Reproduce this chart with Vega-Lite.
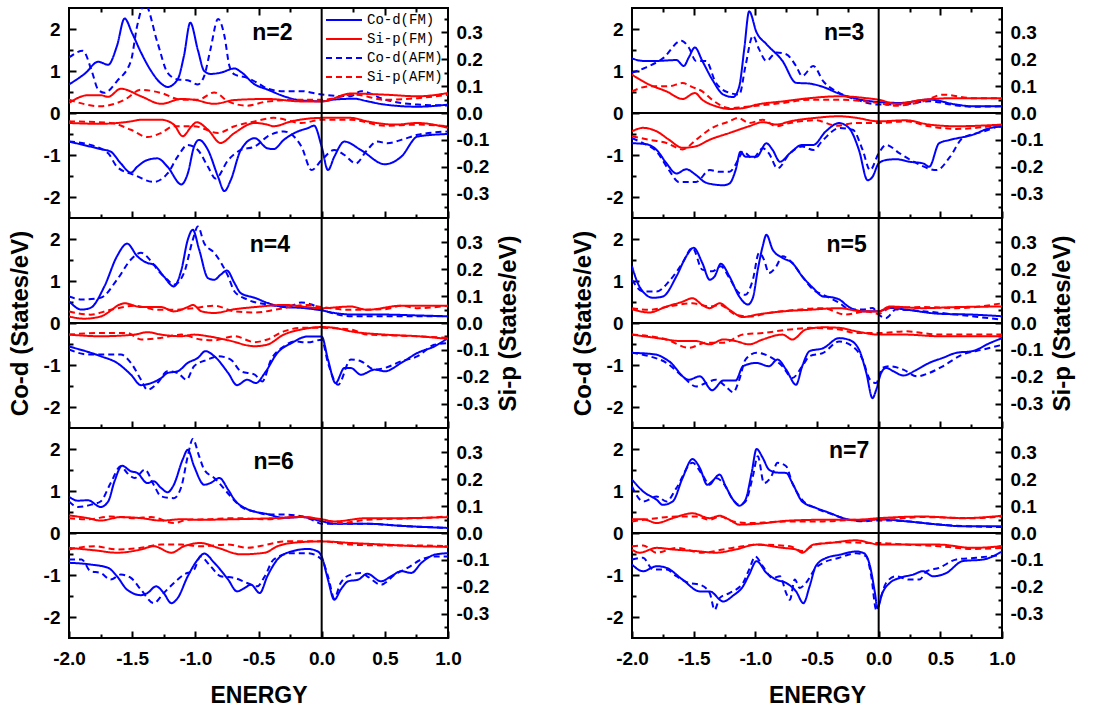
{
"$schema": "https://vega.github.io/schema/vega-lite/v6.json",
"background": "white",
"padding": {"left": 7, "top": 6, "right": 5, "bottom": 5},
"config": {
 "font": "Liberation Sans",
 "view": {"stroke": "black", "strokeWidth": 2},
 "locale": {"number": {"decimal": ".", "thousands": ",", "grouping": [3], "currency": ["$", ""], "minus": "-"}},
 "axis": {"domain": false, "grid": false, "tickColor": "black", "tickWidth": 2, "labelFont": "Liberation Sans", "labelFontWeight": "bold", "labelFontSize": 19, "labelColor": "black", "titleFont": "Liberation Sans", "titleFontWeight": "bold", "titleFontSize": 24, "titleColor": "black", "labelFlush": false, "labelOverlap": false},
 "line": {"strokeWidth": 2, "interpolate": "monotone"},
 "rule": {"color": "black", "strokeWidth": 2},
 "text": {"font": "Liberation Sans", "fontSize": 23, "fontWeight": "bold", "color": "black"}
},
"datasets": {
"n2": [
{"k":"CF+","x":-2,"y":0.68},{"k":"CF+","x":-1.87,"y":0.95},{"k":"CF+","x":-1.77,"y":1.22},{"k":"CF+","x":-1.69,"y":1.15},{"k":"CF+","x":-1.62,"y":1.6},{"k":"CF+","x":-1.56,"y":2.25},{"k":"CF+","x":-1.5,"y":1.9},{"k":"CF+","x":-1.43,"y":1.44},{"k":"CF+","x":-1.35,"y":1.0},{"k":"CF+","x":-1.27,"y":0.7},{"k":"CF+","x":-1.22,"y":0.62},{"k":"CF+","x":-1.14,"y":0.8},{"k":"CF+","x":-1.09,"y":1.36},{"k":"CF+","x":-1.04,"y":2.15},{"k":"CF+","x":-0.98,"y":1.5},{"k":"CF+","x":-0.93,"y":1.0},{"k":"CF+","x":-0.88,"y":0.93},{"k":"CF+","x":-0.8,"y":0.96},{"k":"CF+","x":-0.69,"y":1.06},{"k":"CF+","x":-0.64,"y":0.98},{"k":"CF+","x":-0.53,"y":0.68},{"k":"CF+","x":-0.43,"y":0.56},{"k":"CF+","x":-0.3,"y":0.4},{"k":"CF+","x":-0.16,"y":0.3},{"k":"CF+","x":0,"y":0.28},{"k":"CF+","x":0.1,"y":0.32},{"k":"CF+","x":0.26,"y":0.34},{"k":"CF+","x":0.36,"y":0.28},{"k":"CF+","x":0.5,"y":0.2},{"k":"CF+","x":0.76,"y":0.15},{"k":"CF+","x":1,"y":0.2},
{"k":"CF-","x":-2,"y":-0.68},{"k":"CF-","x":-1.75,"y":-0.86},{"k":"CF-","x":-1.67,"y":-0.92},{"k":"CF-","x":-1.59,"y":-1.2},{"k":"CF-","x":-1.51,"y":-1.42},{"k":"CF-","x":-1.46,"y":-1.28},{"k":"CF-","x":-1.38,"y":-1.12},{"k":"CF-","x":-1.3,"y":-1.08},{"k":"CF-","x":-1.22,"y":-1.28},{"k":"CF-","x":-1.11,"y":-1.7},{"k":"CF-","x":-1.06,"y":-1.44},{"k":"CF-","x":-1.01,"y":-0.8},{"k":"CF-","x":-0.97,"y":-0.64},{"k":"CF-","x":-0.9,"y":-0.88},{"k":"CF-","x":-0.82,"y":-1.52},{"k":"CF-","x":-0.77,"y":-1.86},{"k":"CF-","x":-0.72,"y":-1.6},{"k":"CF-","x":-0.64,"y":-0.88},{"k":"CF-","x":-0.53,"y":-0.6},{"k":"CF-","x":-0.43,"y":-0.84},{"k":"CF-","x":-0.38,"y":-0.86},{"k":"CF-","x":-0.3,"y":-0.64},{"k":"CF-","x":-0.19,"y":-0.44},{"k":"CF-","x":-0.11,"y":-0.36},{"k":"CF-","x":-0.06,"y":-0.3},{"k":"CF-","x":0,"y":-0.8},{"k":"CF-","x":0.05,"y":-1.36},{"k":"CF-","x":0.1,"y":-1.04},{"k":"CF-","x":0.18,"y":-0.68},{"k":"CF-","x":0.31,"y":-0.88},{"k":"CF-","x":0.5,"y":-1.22},{"k":"CF-","x":0.63,"y":-1.04},{"k":"CF-","x":0.76,"y":-0.56},{"k":"CF-","x":1,"y":-0.5},
{"k":"CA+","x":-2,"y":1.32},{"k":"CA+","x":-1.89,"y":1.48},{"k":"CA+","x":-1.82,"y":1.0},{"k":"CA+","x":-1.77,"y":0.56},{"k":"CA+","x":-1.72,"y":0.48},{"k":"CA+","x":-1.62,"y":0.76},{"k":"CA+","x":-1.51,"y":1.24},{"k":"CA+","x":-1.46,"y":2.08},{"k":"CA+","x":-1.4,"y":2.6},{"k":"CA+","x":-1.3,"y":1.68},{"k":"CA+","x":-1.22,"y":0.96},{"k":"CA+","x":-1.14,"y":0.8},{"k":"CA+","x":-1.06,"y":0.78},{"k":"CA+","x":-0.98,"y":0.68},{"k":"CA+","x":-0.93,"y":0.88},{"k":"CA+","x":-0.88,"y":1.52},{"k":"CA+","x":-0.82,"y":2.24},{"k":"CA+","x":-0.77,"y":1.84},{"k":"CA+","x":-0.73,"y":1.12},{"k":"CA+","x":-0.69,"y":0.92},{"k":"CA+","x":-0.59,"y":0.84},{"k":"CA+","x":-0.51,"y":0.72},{"k":"CA+","x":-0.43,"y":0.58},{"k":"CA+","x":-0.3,"y":0.52},{"k":"CA+","x":-0.16,"y":0.52},{"k":"CA+","x":0,"y":0.44},{"k":"CA+","x":0.23,"y":0.4},{"k":"CA+","x":0.31,"y":0.52},{"k":"CA+","x":0.5,"y":0.32},{"k":"CA+","x":0.76,"y":0.2},{"k":"CA+","x":1,"y":0.18},
{"k":"CA-","x":-2,"y":-0.68},{"k":"CA-","x":-1.83,"y":-0.76},{"k":"CA-","x":-1.69,"y":-0.96},{"k":"CA-","x":-1.62,"y":-1.28},{"k":"CA-","x":-1.48,"y":-1.48},{"k":"CA-","x":-1.33,"y":-1.64},{"k":"CA-","x":-1.22,"y":-1.44},{"k":"CA-","x":-1.14,"y":-1.04},{"k":"CA-","x":-1.06,"y":-0.76},{"k":"CA-","x":-0.98,"y":-0.88},{"k":"CA-","x":-0.9,"y":-1.28},{"k":"CA-","x":-0.84,"y":-1.56},{"k":"CA-","x":-0.74,"y":-1.12},{"k":"CA-","x":-0.64,"y":-0.88},{"k":"CA-","x":-0.53,"y":-0.8},{"k":"CA-","x":-0.43,"y":-0.56},{"k":"CA-","x":-0.3,"y":-0.44},{"k":"CA-","x":-0.16,"y":-0.8},{"k":"CA-","x":-0.08,"y":-1.36},{"k":"CA-","x":0,"y":-1.12},{"k":"CA-","x":0.1,"y":-0.88},{"k":"CA-","x":0.18,"y":-1.0},{"k":"CA-","x":0.27,"y":-1.2},{"k":"CA-","x":0.36,"y":-0.88},{"k":"CA-","x":0.44,"y":-0.68},{"k":"CA-","x":0.52,"y":-0.72},{"k":"CA-","x":0.63,"y":-0.64},{"k":"CA-","x":0.76,"y":-0.52},{"k":"CA-","x":1,"y":-0.44},
{"k":"SF+","x":-2,"y":0.037},{"k":"SF+","x":-1.85,"y":0.066},{"k":"SF+","x":-1.75,"y":0.066},{"k":"SF+","x":-1.69,"y":0.06},{"k":"SF+","x":-1.59,"y":0.09},{"k":"SF+","x":-1.43,"y":0.062},{"k":"SF+","x":-1.27,"y":0.034},{"k":"SF+","x":-1.11,"y":0.052},{"k":"SF+","x":-1.01,"y":0.049},{"k":"SF+","x":-0.85,"y":0.034},{"k":"SF+","x":-0.69,"y":0.048},{"k":"SF+","x":-0.43,"y":0.052},{"k":"SF+","x":-0.16,"y":0.043},{"k":"SF+","x":0,"y":0.043},{"k":"SF+","x":0.23,"y":0.072},{"k":"SF+","x":0.5,"y":0.068},{"k":"SF+","x":0.76,"y":0.062},{"k":"SF+","x":1,"y":0.074},
{"k":"SA+","x":-2,"y":0.049},{"k":"SA+","x":-1.75,"y":0.025},{"k":"SA+","x":-1.56,"y":0.049},{"k":"SA+","x":-1.43,"y":0.086},{"k":"SA+","x":-1.27,"y":0.074},{"k":"SA+","x":-1.11,"y":0.049},{"k":"SA+","x":-0.98,"y":0.049},{"k":"SA+","x":-0.85,"y":0.076},{"k":"SA+","x":-0.74,"y":0.043},{"k":"SA+","x":-0.59,"y":0.027},{"k":"SA+","x":-0.43,"y":0.043},{"k":"SA+","x":-0.16,"y":0.049},{"k":"SA+","x":0,"y":0.049},{"k":"SA+","x":0.26,"y":0.068},{"k":"SA+","x":0.5,"y":0.049},{"k":"SA+","x":0.76,"y":0.055},{"k":"SA+","x":1,"y":0.068},
{"k":"SF-","x":-2,"y":-0.037},{"k":"SF-","x":-1.75,"y":-0.04},{"k":"SF-","x":-1.51,"y":-0.031},{"k":"SF-","x":-1.43,"y":-0.025},{"k":"SF-","x":-1.27,"y":-0.025},{"k":"SF-","x":-1.17,"y":-0.043},{"k":"SF-","x":-1.1,"y":-0.086},{"k":"SF-","x":-1.03,"y":-0.049},{"k":"SF-","x":-0.99,"y":-0.034},{"k":"SF-","x":-0.9,"y":-0.062},{"k":"SF-","x":-0.8,"y":-0.111},{"k":"SF-","x":-0.69,"y":-0.074},{"k":"SF-","x":-0.53,"y":-0.037},{"k":"SF-","x":-0.43,"y":-0.043},{"k":"SF-","x":-0.38,"y":-0.049},{"k":"SF-","x":-0.24,"y":-0.031},{"k":"SF-","x":0,"y":-0.018},{"k":"SF-","x":0.23,"y":-0.018},{"k":"SF-","x":0.36,"y":-0.031},{"k":"SF-","x":0.58,"y":-0.043},{"k":"SF-","x":0.76,"y":-0.037},{"k":"SF-","x":1,"y":-0.055},
{"k":"SA-","x":-2,"y":-0.031},{"k":"SA-","x":-1.67,"y":-0.037},{"k":"SA-","x":-1.51,"y":-0.062},{"k":"SA-","x":-1.38,"y":-0.089},{"k":"SA-","x":-1.27,"y":-0.074},{"k":"SA-","x":-1.17,"y":-0.049},{"k":"SA-","x":-1.01,"y":-0.049},{"k":"SA-","x":-0.82,"y":-0.074},{"k":"SA-","x":-0.69,"y":-0.049},{"k":"SA-","x":-0.53,"y":-0.031},{"k":"SA-","x":-0.38,"y":-0.018},{"k":"SA-","x":-0.16,"y":-0.037},{"k":"SA-","x":0,"y":-0.025},{"k":"SA-","x":0.23,"y":-0.025},{"k":"SA-","x":0.5,"y":-0.047},{"k":"SA-","x":0.76,"y":-0.043},{"k":"SA-","x":1,"y":-0.049}
],
"n3": [
{"k":"CF+","x":-2,"y":1.3},{"k":"CF+","x":-1.91,"y":1.24},{"k":"CF+","x":-1.8,"y":1.24},{"k":"CF+","x":-1.64,"y":1.26},{"k":"CF+","x":-1.58,"y":1.12},{"k":"CF+","x":-1.54,"y":1.32},{"k":"CF+","x":-1.49,"y":1.56},{"k":"CF+","x":-1.43,"y":1.24},{"k":"CF+","x":-1.35,"y":0.8},{"k":"CF+","x":-1.26,"y":0.44},{"k":"CF+","x":-1.18,"y":0.38},{"k":"CF+","x":-1.13,"y":0.64},{"k":"CF+","x":-1.09,"y":1.52},{"k":"CF+","x":-1.05,"y":2.42},{"k":"CF+","x":-0.99,"y":1.92},{"k":"CF+","x":-0.91,"y":1.64},{"k":"CF+","x":-0.78,"y":1.24},{"k":"CF+","x":-0.67,"y":0.72},{"k":"CF+","x":-0.56,"y":0.7},{"k":"CF+","x":-0.45,"y":0.62},{"k":"CF+","x":-0.32,"y":0.46},{"k":"CF+","x":-0.18,"y":0.34},{"k":"CF+","x":0,"y":0.26},{"k":"CF+","x":0.17,"y":0.24},{"k":"CF+","x":0.41,"y":0.32},{"k":"CF+","x":0.63,"y":0.2},{"k":"CF+","x":0.76,"y":0.16},{"k":"CF+","x":1,"y":0.16},
{"k":"CA+","x":-2,"y":0.96},{"k":"CA+","x":-1.89,"y":1.08},{"k":"CA+","x":-1.75,"y":1.3},{"k":"CA+","x":-1.6,"y":1.72},{"k":"CA+","x":-1.54,"y":1.56},{"k":"CA+","x":-1.48,"y":1.24},{"k":"CA+","x":-1.4,"y":1.24},{"k":"CA+","x":-1.32,"y":0.72},{"k":"CA+","x":-1.21,"y":0.48},{"k":"CA+","x":-1.13,"y":0.44},{"k":"CA+","x":-1.08,"y":1.12},{"k":"CA+","x":-1.02,"y":1.84},{"k":"CA+","x":-0.97,"y":1.52},{"k":"CA+","x":-0.91,"y":1.24},{"k":"CA+","x":-0.83,"y":1.44},{"k":"CA+","x":-0.75,"y":1.4},{"k":"CA+","x":-0.67,"y":1.12},{"k":"CA+","x":-0.62,"y":0.88},{"k":"CA+","x":-0.53,"y":1.12},{"k":"CA+","x":-0.45,"y":0.76},{"k":"CA+","x":-0.32,"y":0.48},{"k":"CA+","x":-0.18,"y":0.32},{"k":"CA+","x":0,"y":0.2},{"k":"CA+","x":0.17,"y":0.2},{"k":"CA+","x":0.41,"y":0.28},{"k":"CA+","x":0.63,"y":0.18},{"k":"CA+","x":0.76,"y":0.15},{"k":"CA+","x":1,"y":0.16},
{"k":"CF-","x":-2,"y":-0.72},{"k":"CF-","x":-1.89,"y":-0.74},{"k":"CF-","x":-1.8,"y":-0.88},{"k":"CF-","x":-1.72,"y":-1.2},{"k":"CF-","x":-1.64,"y":-1.44},{"k":"CF-","x":-1.56,"y":-1.34},{"k":"CF-","x":-1.48,"y":-1.48},{"k":"CF-","x":-1.4,"y":-1.66},{"k":"CF-","x":-1.26,"y":-1.72},{"k":"CF-","x":-1.21,"y":-1.68},{"k":"CF-","x":-1.16,"y":-1.36},{"k":"CF-","x":-1.12,"y":-0.92},{"k":"CF-","x":-1.08,"y":-1.04},{"k":"CF-","x":-0.99,"y":-1.04},{"k":"CF-","x":-0.91,"y":-0.72},{"k":"CF-","x":-0.86,"y":-0.88},{"k":"CF-","x":-0.8,"y":-1.16},{"k":"CF-","x":-0.72,"y":-0.96},{"k":"CF-","x":-0.62,"y":-0.76},{"k":"CF-","x":-0.53,"y":-0.76},{"k":"CF-","x":-0.43,"y":-0.44},{"k":"CF-","x":-0.32,"y":-0.24},{"k":"CF-","x":-0.24,"y":-0.36},{"k":"CF-","x":-0.16,"y":-0.88},{"k":"CF-","x":-0.09,"y":-1.6},{"k":"CF-","x":-0.05,"y":-1.52},{"k":"CF-","x":0,"y":-1.2},{"k":"CF-","x":0.06,"y":-1.12},{"k":"CF-","x":0.14,"y":-1.1},{"k":"CF-","x":0.25,"y":-1.16},{"k":"CF-","x":0.36,"y":-1.2},{"k":"CF-","x":0.41,"y":-1.28},{"k":"CF-","x":0.49,"y":-0.72},{"k":"CF-","x":0.58,"y":-0.64},{"k":"CF-","x":0.76,"y":-0.52},{"k":"CF-","x":0.9,"y":-0.36},{"k":"CF-","x":1,"y":-0.32},
{"k":"CA-","x":-2,"y":-0.6},{"k":"CA-","x":-1.91,"y":-0.72},{"k":"CA-","x":-1.8,"y":-0.92},{"k":"CA-","x":-1.7,"y":-1.36},{"k":"CA-","x":-1.62,"y":-1.64},{"k":"CA-","x":-1.48,"y":-1.64},{"k":"CA-","x":-1.37,"y":-1.36},{"k":"CA-","x":-1.29,"y":-1.4},{"k":"CA-","x":-1.21,"y":-1.4},{"k":"CA-","x":-1.14,"y":-1.12},{"k":"CA-","x":-1.1,"y":-0.92},{"k":"CA-","x":-1.02,"y":-1.08},{"k":"CA-","x":-0.94,"y":-0.84},{"k":"CA-","x":-0.89,"y":-0.96},{"k":"CA-","x":-0.82,"y":-1.32},{"k":"CA-","x":-0.72,"y":-0.96},{"k":"CA-","x":-0.62,"y":-0.8},{"k":"CA-","x":-0.53,"y":-0.88},{"k":"CA-","x":-0.45,"y":-0.64},{"k":"CA-","x":-0.32,"y":-0.36},{"k":"CA-","x":-0.21,"y":-0.4},{"k":"CA-","x":-0.13,"y":-0.88},{"k":"CA-","x":-0.07,"y":-1.36},{"k":"CA-","x":0,"y":-0.96},{"k":"CA-","x":0.06,"y":-0.76},{"k":"CA-","x":0.17,"y":-0.96},{"k":"CA-","x":0.31,"y":-1.2},{"k":"CA-","x":0.47,"y":-1.36},{"k":"CA-","x":0.58,"y":-1.04},{"k":"CA-","x":0.68,"y":-0.6},{"k":"CA-","x":0.85,"y":-0.44},{"k":"CA-","x":1,"y":-0.28},
{"k":"SF+","x":-2,"y":0.142},{"k":"SF+","x":-1.86,"y":0.105},{"k":"SF+","x":-1.72,"y":0.08},{"k":"SF+","x":-1.59,"y":0.052},{"k":"SF+","x":-1.49,"y":0.074},{"k":"SF+","x":-1.43,"y":0.049},{"k":"SF+","x":-1.32,"y":0.025},{"k":"SF+","x":-1.21,"y":0.015},{"k":"SF+","x":-1.1,"y":0.018},{"k":"SF+","x":-0.99,"y":0.031},{"k":"SF+","x":-0.78,"y":0.043},{"k":"SF+","x":-0.56,"y":0.055},{"k":"SF+","x":-0.32,"y":0.062},{"k":"SF+","x":-0.1,"y":0.055},{"k":"SF+","x":0,"y":0.049},{"k":"SF+","x":0.14,"y":0.034},{"k":"SF+","x":0.36,"y":0.049},{"k":"SF+","x":0.63,"y":0.055},{"k":"SF+","x":1,"y":0.055},
{"k":"SA+","x":-2,"y":0.08},{"k":"SA+","x":-1.86,"y":0.099},{"k":"SA+","x":-1.7,"y":0.099},{"k":"SA+","x":-1.59,"y":0.111},{"k":"SA+","x":-1.51,"y":0.096},{"k":"SA+","x":-1.43,"y":0.08},{"k":"SA+","x":-1.35,"y":0.049},{"k":"SA+","x":-1.21,"y":0.018},{"k":"SA+","x":-1.1,"y":0.022},{"k":"SA+","x":-0.99,"y":0.027},{"k":"SA+","x":-0.78,"y":0.037},{"k":"SA+","x":-0.56,"y":0.049},{"k":"SA+","x":-0.32,"y":0.049},{"k":"SA+","x":-0.1,"y":0.043},{"k":"SA+","x":0,"y":0.037},{"k":"SA+","x":0.14,"y":0.027},{"k":"SA+","x":0.36,"y":0.043},{"k":"SA+","x":0.52,"y":0.068},{"k":"SA+","x":0.76,"y":0.055},{"k":"SA+","x":1,"y":0.055},
{"k":"SF-","x":-2,"y":-0.068},{"k":"SF-","x":-1.91,"y":-0.055},{"k":"SF-","x":-1.8,"y":-0.068},{"k":"SF-","x":-1.7,"y":-0.099},{"k":"SF-","x":-1.59,"y":-0.129},{"k":"SF-","x":-1.48,"y":-0.123},{"k":"SF-","x":-1.37,"y":-0.099},{"k":"SF-","x":-1.21,"y":-0.074},{"k":"SF-","x":-1.05,"y":-0.049},{"k":"SF-","x":-0.94,"y":-0.034},{"k":"SF-","x":-0.83,"y":-0.043},{"k":"SF-","x":-0.72,"y":-0.031},{"k":"SF-","x":-0.51,"y":-0.018},{"k":"SF-","x":-0.32,"y":-0.012},{"k":"SF-","x":-0.18,"y":-0.018},{"k":"SF-","x":0,"y":-0.031},{"k":"SF-","x":0.22,"y":-0.027},{"k":"SF-","x":0.41,"y":-0.043},{"k":"SF-","x":0.63,"y":-0.049},{"k":"SF-","x":1,"y":-0.043},
{"k":"SA-","x":-2,"y":-0.086},{"k":"SA-","x":-1.86,"y":-0.099},{"k":"SA-","x":-1.72,"y":-0.111},{"k":"SA-","x":-1.59,"y":-0.135},{"k":"SA-","x":-1.48,"y":-0.099},{"k":"SA-","x":-1.35,"y":-0.055},{"k":"SA-","x":-1.21,"y":-0.031},{"k":"SA-","x":-1.14,"y":-0.018},{"k":"SA-","x":-1.05,"y":-0.037},{"k":"SA-","x":-0.94,"y":-0.025},{"k":"SA-","x":-0.83,"y":-0.049},{"k":"SA-","x":-0.72,"y":-0.037},{"k":"SA-","x":-0.51,"y":-0.027},{"k":"SA-","x":-0.34,"y":-0.047},{"k":"SA-","x":-0.18,"y":-0.037},{"k":"SA-","x":0,"y":-0.037},{"k":"SA-","x":0.22,"y":-0.031},{"k":"SA-","x":0.41,"y":-0.049},{"k":"SA-","x":0.63,"y":-0.059},{"k":"SA-","x":1,"y":-0.043}
],
"n4": [
{"k":"CF+","x":-2,"y":0.52},{"k":"CF+","x":-1.9,"y":0.32},{"k":"CF+","x":-1.83,"y":0.36},{"k":"CF+","x":-1.72,"y":0.87},{"k":"CF+","x":-1.62,"y":1.59},{"k":"CF+","x":-1.54,"y":1.89},{"k":"CF+","x":-1.46,"y":1.59},{"k":"CF+","x":-1.38,"y":1.43},{"k":"CF+","x":-1.33,"y":1.39},{"k":"CF+","x":-1.25,"y":1.11},{"k":"CF+","x":-1.17,"y":0.87},{"k":"CF+","x":-1.11,"y":1.27},{"k":"CF+","x":-1.06,"y":1.98},{"k":"CF+","x":-1.02,"y":2.22},{"k":"CF+","x":-0.97,"y":1.75},{"k":"CF+","x":-0.9,"y":1.07},{"k":"CF+","x":-0.85,"y":1.03},{"k":"CF+","x":-0.8,"y":1.15},{"k":"CF+","x":-0.75,"y":1.25},{"k":"CF+","x":-0.69,"y":0.95},{"k":"CF+","x":-0.64,"y":0.71},{"k":"CF+","x":-0.53,"y":0.6},{"k":"CF+","x":-0.43,"y":0.48},{"k":"CF+","x":-0.3,"y":0.38},{"k":"CF+","x":-0.16,"y":0.36},{"k":"CF+","x":0,"y":0.3},{"k":"CF+","x":0.1,"y":0.24},{"k":"CF+","x":0.26,"y":0.2},{"k":"CF+","x":0.5,"y":0.2},{"k":"CF+","x":0.76,"y":0.18},{"k":"CF+","x":1,"y":0.16},
{"k":"CA+","x":-2,"y":0.63},{"k":"CA+","x":-1.9,"y":0.56},{"k":"CA+","x":-1.75,"y":0.6},{"k":"CA+","x":-1.62,"y":1.03},{"k":"CA+","x":-1.51,"y":1.51},{"k":"CA+","x":-1.43,"y":1.67},{"k":"CA+","x":-1.35,"y":1.47},{"k":"CA+","x":-1.3,"y":1.27},{"k":"CA+","x":-1.22,"y":1.03},{"k":"CA+","x":-1.17,"y":0.91},{"k":"CA+","x":-1.09,"y":1.19},{"k":"CA+","x":-1.02,"y":1.98},{"k":"CA+","x":-0.98,"y":2.3},{"k":"CA+","x":-0.93,"y":1.9},{"k":"CA+","x":-0.85,"y":1.67},{"k":"CA+","x":-0.74,"y":1.11},{"k":"CA+","x":-0.69,"y":0.75},{"k":"CA+","x":-0.59,"y":0.56},{"k":"CA+","x":-0.43,"y":0.44},{"k":"CA+","x":-0.27,"y":0.38},{"k":"CA+","x":-0.16,"y":0.49},{"k":"CA+","x":-0.08,"y":0.44},{"k":"CA+","x":0,"y":0.32},{"k":"CA+","x":0.1,"y":0.22},{"k":"CA+","x":0.23,"y":0.16},{"k":"CA+","x":0.5,"y":0.16},{"k":"CA+","x":0.76,"y":0.16},{"k":"CA+","x":1,"y":0.16},
{"k":"CF-","x":-2,"y":-0.56},{"k":"CF-","x":-1.75,"y":-0.79},{"k":"CF-","x":-1.62,"y":-0.95},{"k":"CF-","x":-1.51,"y":-1.23},{"k":"CF-","x":-1.43,"y":-1.48},{"k":"CF-","x":-1.35,"y":-1.43},{"k":"CF-","x":-1.27,"y":-1.31},{"k":"CF-","x":-1.22,"y":-1.19},{"k":"CF-","x":-1.14,"y":-1.15},{"k":"CF-","x":-1.06,"y":-0.95},{"k":"CF-","x":-0.98,"y":-0.83},{"k":"CF-","x":-0.92,"y":-0.67},{"k":"CF-","x":-0.85,"y":-0.79},{"k":"CF-","x":-0.74,"y":-1.19},{"k":"CF-","x":-0.67,"y":-1.48},{"k":"CF-","x":-0.59,"y":-1.35},{"k":"CF-","x":-0.52,"y":-1.43},{"k":"CF-","x":-0.45,"y":-1.19},{"k":"CF-","x":-0.35,"y":-0.71},{"k":"CF-","x":-0.24,"y":-0.48},{"k":"CF-","x":-0.11,"y":-0.32},{"k":"CF-","x":0,"y":-0.32},{"k":"CF-","x":0.05,"y":-0.87},{"k":"CF-","x":0.11,"y":-1.43},{"k":"CF-","x":0.18,"y":-1.07},{"k":"CF-","x":0.23,"y":-1.07},{"k":"CF-","x":0.31,"y":-1.23},{"k":"CF-","x":0.42,"y":-1.11},{"k":"CF-","x":0.5,"y":-1.15},{"k":"CF-","x":0.63,"y":-0.95},{"k":"CF-","x":0.76,"y":-0.71},{"k":"CF-","x":0.89,"y":-0.56},{"k":"CF-","x":1,"y":-0.36},
{"k":"CA-","x":-2,"y":-0.63},{"k":"CA-","x":-1.85,"y":-0.75},{"k":"CA-","x":-1.75,"y":-0.75},{"k":"CA-","x":-1.59,"y":-0.75},{"k":"CA-","x":-1.51,"y":-0.95},{"k":"CA-","x":-1.43,"y":-1.35},{"k":"CA-","x":-1.38,"y":-1.59},{"k":"CA-","x":-1.3,"y":-1.43},{"k":"CA-","x":-1.22,"y":-1.15},{"k":"CA-","x":-1.14,"y":-1.19},{"k":"CA-","x":-1.07,"y":-1.35},{"k":"CA-","x":-1.01,"y":-1.03},{"k":"CA-","x":-0.9,"y":-0.87},{"k":"CA-","x":-0.82,"y":-0.79},{"k":"CA-","x":-0.72,"y":-0.87},{"k":"CA-","x":-0.64,"y":-1.15},{"k":"CA-","x":-0.53,"y":-1.23},{"k":"CA-","x":-0.47,"y":-1.39},{"k":"CA-","x":-0.4,"y":-0.87},{"k":"CA-","x":-0.3,"y":-0.56},{"k":"CA-","x":-0.22,"y":-0.44},{"k":"CA-","x":-0.11,"y":-0.46},{"k":"CA-","x":0,"y":-0.4},{"k":"CA-","x":0.05,"y":-0.95},{"k":"CA-","x":0.13,"y":-1.47},{"k":"CA-","x":0.23,"y":-0.87},{"k":"CA-","x":0.31,"y":-0.91},{"k":"CA-","x":0.42,"y":-1.11},{"k":"CA-","x":0.5,"y":-1.07},{"k":"CA-","x":0.63,"y":-0.91},{"k":"CA-","x":0.76,"y":-0.79},{"k":"CA-","x":0.89,"y":-0.52},{"k":"CA-","x":1,"y":-0.48},
{"k":"SF+","x":-2,"y":0.024},{"k":"SF+","x":-1.88,"y":0.016},{"k":"SF+","x":-1.75,"y":0.024},{"k":"SF+","x":-1.56,"y":0.073},{"k":"SF+","x":-1.43,"y":0.059},{"k":"SF+","x":-1.27,"y":0.059},{"k":"SF+","x":-1.17,"y":0.043},{"k":"SF+","x":-1.06,"y":0.059},{"k":"SF+","x":-1.02,"y":0.067},{"k":"SF+","x":-0.95,"y":0.043},{"k":"SF+","x":-0.85,"y":0.037},{"k":"SF+","x":-0.69,"y":0.051},{"k":"SF+","x":-0.53,"y":0.059},{"k":"SF+","x":-0.3,"y":0.067},{"k":"SF+","x":0,"y":0.055},{"k":"SF+","x":0.23,"y":0.061},{"k":"SF+","x":0.36,"y":0.049},{"k":"SF+","x":0.63,"y":0.064},{"k":"SF+","x":1,"y":0.064},
{"k":"SA+","x":-2,"y":0.043},{"k":"SA+","x":-1.83,"y":0.031},{"k":"SA+","x":-1.67,"y":0.049},{"k":"SA+","x":-1.48,"y":0.064},{"k":"SA+","x":-1.3,"y":0.049},{"k":"SA+","x":-1.17,"y":0.049},{"k":"SA+","x":-1.01,"y":0.055},{"k":"SA+","x":-0.85,"y":0.064},{"k":"SA+","x":-0.69,"y":0.043},{"k":"SA+","x":-0.53,"y":0.039},{"k":"SA+","x":-0.3,"y":0.055},{"k":"SA+","x":-0.11,"y":0.067},{"k":"SA+","x":0,"y":0.059},{"k":"SA+","x":0.23,"y":0.049},{"k":"SA+","x":0.5,"y":0.051},{"k":"SA+","x":0.63,"y":0.064},{"k":"SA+","x":0.76,"y":0.055},{"k":"SA+","x":1,"y":0.064},
{"k":"SF-","x":-2,"y":-0.043},{"k":"SF-","x":-1.75,"y":-0.049},{"k":"SF-","x":-1.48,"y":-0.043},{"k":"SF-","x":-1.38,"y":-0.034},{"k":"SF-","x":-1.27,"y":-0.043},{"k":"SF-","x":-1.11,"y":-0.049},{"k":"SF-","x":-1.01,"y":-0.043},{"k":"SF-","x":-0.9,"y":-0.049},{"k":"SF-","x":-0.74,"y":-0.064},{"k":"SF-","x":-0.53,"y":-0.086},{"k":"SF-","x":-0.43,"y":-0.08},{"k":"SF-","x":-0.3,"y":-0.043},{"k":"SF-","x":-0.16,"y":-0.024},{"k":"SF-","x":0,"y":-0.015},{"k":"SF-","x":0.1,"y":-0.018},{"k":"SF-","x":0.23,"y":-0.031},{"k":"SF-","x":0.5,"y":-0.043},{"k":"SF-","x":0.76,"y":-0.049},{"k":"SF-","x":1,"y":-0.059},
{"k":"SA-","x":-2,"y":-0.043},{"k":"SA-","x":-1.75,"y":-0.037},{"k":"SA-","x":-1.54,"y":-0.037},{"k":"SA-","x":-1.43,"y":-0.061},{"k":"SA-","x":-1.27,"y":-0.055},{"k":"SA-","x":-1.11,"y":-0.043},{"k":"SA-","x":-0.96,"y":-0.061},{"k":"SA-","x":-0.85,"y":-0.064},{"k":"SA-","x":-0.69,"y":-0.049},{"k":"SA-","x":-0.53,"y":-0.071},{"k":"SA-","x":-0.43,"y":-0.061},{"k":"SA-","x":-0.3,"y":-0.031},{"k":"SA-","x":-0.16,"y":-0.018},{"k":"SA-","x":0,"y":-0.018},{"k":"SA-","x":0.23,"y":-0.024},{"k":"SA-","x":0.36,"y":-0.043},{"k":"SA-","x":0.63,"y":-0.047},{"k":"SA-","x":1,"y":-0.055}
],
"n5": [
{"k":"CF+","x":-2,"y":1.35},{"k":"CF+","x":-1.94,"y":0.87},{"k":"CF+","x":-1.83,"y":0.6},{"k":"CF+","x":-1.75,"y":0.63},{"k":"CF+","x":-1.64,"y":1.11},{"k":"CF+","x":-1.56,"y":1.59},{"k":"CF+","x":-1.5,"y":1.79},{"k":"CF+","x":-1.43,"y":1.43},{"k":"CF+","x":-1.37,"y":1.03},{"k":"CF+","x":-1.33,"y":1.11},{"k":"CF+","x":-1.28,"y":1.41},{"k":"CF+","x":-1.21,"y":1.11},{"k":"CF+","x":-1.13,"y":0.63},{"k":"CF+","x":-1.06,"y":0.44},{"k":"CF+","x":-1.02,"y":0.6},{"k":"CF+","x":-0.98,"y":1.27},{"k":"CF+","x":-0.94,"y":1.83},{"k":"CF+","x":-0.91,"y":2.1},{"k":"CF+","x":-0.86,"y":1.75},{"k":"CF+","x":-0.78,"y":1.55},{"k":"CF+","x":-0.7,"y":1.43},{"k":"CF+","x":-0.62,"y":1.11},{"k":"CF+","x":-0.53,"y":0.83},{"k":"CF+","x":-0.45,"y":0.63},{"k":"CF+","x":-0.4,"y":0.62},{"k":"CF+","x":-0.32,"y":0.56},{"k":"CF+","x":-0.24,"y":0.38},{"k":"CF+","x":-0.13,"y":0.28},{"k":"CF+","x":0,"y":0.28},{"k":"CF+","x":0.09,"y":0.36},{"k":"CF+","x":0.22,"y":0.32},{"k":"CF+","x":0.49,"y":0.22},{"k":"CF+","x":0.76,"y":0.2},{"k":"CF+","x":1,"y":0.16},
{"k":"CA+","x":-2,"y":1.03},{"k":"CA+","x":-1.91,"y":0.75},{"k":"CA+","x":-1.8,"y":0.75},{"k":"CA+","x":-1.7,"y":0.99},{"k":"CA+","x":-1.59,"y":1.43},{"k":"CA+","x":-1.51,"y":1.79},{"k":"CA+","x":-1.43,"y":1.27},{"k":"CA+","x":-1.35,"y":1.23},{"k":"CA+","x":-1.28,"y":1.35},{"k":"CA+","x":-1.21,"y":1.07},{"k":"CA+","x":-1.13,"y":0.71},{"k":"CA+","x":-1.08,"y":0.67},{"k":"CA+","x":-1.02,"y":1.03},{"k":"CA+","x":-0.97,"y":1.67},{"k":"CA+","x":-0.93,"y":1.51},{"k":"CA+","x":-0.89,"y":1.19},{"k":"CA+","x":-0.83,"y":1.35},{"k":"CA+","x":-0.78,"y":1.59},{"k":"CA+","x":-0.7,"y":1.43},{"k":"CA+","x":-0.62,"y":1.11},{"k":"CA+","x":-0.53,"y":0.79},{"k":"CA+","x":-0.45,"y":0.67},{"k":"CA+","x":-0.32,"y":0.48},{"k":"CA+","x":-0.24,"y":0.33},{"k":"CA+","x":-0.13,"y":0.32},{"k":"CA+","x":-0.05,"y":0.36},{"k":"CA+","x":0,"y":0.2},{"k":"CA+","x":0.06,"y":0.12},{"k":"CA+","x":0.14,"y":0.32},{"k":"CA+","x":0.36,"y":0.28},{"k":"CA+","x":0.63,"y":0.2},{"k":"CA+","x":1,"y":0.08},
{"k":"CF-","x":-2,"y":-0.71},{"k":"CF-","x":-1.81,"y":-0.75},{"k":"CF-","x":-1.7,"y":-0.91},{"k":"CF-","x":-1.54,"y":-1.35},{"k":"CF-","x":-1.45,"y":-1.27},{"k":"CF-","x":-1.35,"y":-1.6},{"k":"CF-","x":-1.26,"y":-1.37},{"k":"CF-","x":-1.16,"y":-1.37},{"k":"CF-","x":-1.1,"y":-1.03},{"k":"CF-","x":-0.99,"y":-0.95},{"k":"CF-","x":-0.89,"y":-1.03},{"k":"CF-","x":-0.82,"y":-0.87},{"k":"CF-","x":-0.75,"y":-1.11},{"k":"CF-","x":-0.67,"y":-1.47},{"k":"CF-","x":-0.62,"y":-1.03},{"k":"CF-","x":-0.56,"y":-0.67},{"k":"CF-","x":-0.45,"y":-0.6},{"k":"CF-","x":-0.32,"y":-0.36},{"k":"CF-","x":-0.24,"y":-0.4},{"k":"CF-","x":-0.16,"y":-0.63},{"k":"CF-","x":-0.1,"y":-1.19},{"k":"CF-","x":-0.05,"y":-1.79},{"k":"CF-","x":-0.02,"y":-1.59},{"k":"CF-","x":0.02,"y":-1.19},{"k":"CF-","x":0.06,"y":-1.07},{"k":"CF-","x":0.12,"y":-1.15},{"k":"CF-","x":0.2,"y":-1.25},{"k":"CF-","x":0.31,"y":-1.11},{"k":"CF-","x":0.41,"y":-0.95},{"k":"CF-","x":0.52,"y":-0.83},{"k":"CF-","x":0.63,"y":-0.71},{"k":"CF-","x":0.76,"y":-0.67},{"k":"CF-","x":0.9,"y":-0.48},{"k":"CF-","x":1,"y":-0.36},
{"k":"CA-","x":-2,"y":-0.71},{"k":"CA-","x":-1.86,"y":-0.79},{"k":"CA-","x":-1.72,"y":-0.95},{"k":"CA-","x":-1.59,"y":-1.27},{"k":"CA-","x":-1.48,"y":-1.51},{"k":"CA-","x":-1.4,"y":-1.43},{"k":"CA-","x":-1.32,"y":-1.35},{"k":"CA-","x":-1.24,"y":-1.51},{"k":"CA-","x":-1.18,"y":-1.65},{"k":"CA-","x":-1.13,"y":-1.35},{"k":"CA-","x":-1.08,"y":-0.87},{"k":"CA-","x":-0.99,"y":-0.71},{"k":"CA-","x":-0.89,"y":-0.79},{"k":"CA-","x":-0.78,"y":-1.03},{"k":"CA-","x":-0.7,"y":-1.31},{"k":"CA-","x":-0.62,"y":-1.03},{"k":"CA-","x":-0.56,"y":-0.79},{"k":"CA-","x":-0.45,"y":-0.71},{"k":"CA-","x":-0.32,"y":-0.44},{"k":"CA-","x":-0.21,"y":-0.56},{"k":"CA-","x":-0.13,"y":-0.87},{"k":"CA-","x":-0.07,"y":-1.35},{"k":"CA-","x":-0.02,"y":-1.43},{"k":"CA-","x":0.03,"y":-1.07},{"k":"CA-","x":0.09,"y":-1.03},{"k":"CA-","x":0.2,"y":-1.11},{"k":"CA-","x":0.31,"y":-1.27},{"k":"CA-","x":0.41,"y":-1.19},{"k":"CA-","x":0.52,"y":-1.03},{"k":"CA-","x":0.68,"y":-0.75},{"k":"CA-","x":0.85,"y":-0.63},{"k":"CA-","x":1,"y":-0.52},
{"k":"SF+","x":-2,"y":0.051},{"k":"SF+","x":-1.86,"y":0.039},{"k":"SF+","x":-1.72,"y":0.061},{"k":"SF+","x":-1.59,"y":0.079},{"k":"SF+","x":-1.51,"y":0.092},{"k":"SF+","x":-1.43,"y":0.067},{"k":"SF+","x":-1.37,"y":0.055},{"k":"SF+","x":-1.29,"y":0.073},{"k":"SF+","x":-1.21,"y":0.049},{"k":"SF+","x":-1.1,"y":0.022},{"k":"SF+","x":-0.99,"y":0.031},{"k":"SF+","x":-0.78,"y":0.043},{"k":"SF+","x":-0.56,"y":0.049},{"k":"SF+","x":-0.32,"y":0.055},{"k":"SF+","x":-0.13,"y":0.043},{"k":"SF+","x":0,"y":0.043},{"k":"SF+","x":0.09,"y":0.061},{"k":"SF+","x":0.36,"y":0.055},{"k":"SF+","x":0.63,"y":0.059},{"k":"SF+","x":1,"y":0.061},
{"k":"SA+","x":-2,"y":0.055},{"k":"SA+","x":-1.86,"y":0.049},{"k":"SA+","x":-1.67,"y":0.064},{"k":"SA+","x":-1.51,"y":0.073},{"k":"SA+","x":-1.37,"y":0.061},{"k":"SA+","x":-1.29,"y":0.067},{"k":"SA+","x":-1.16,"y":0.031},{"k":"SA+","x":-1.05,"y":0.024},{"k":"SA+","x":-0.89,"y":0.037},{"k":"SA+","x":-0.67,"y":0.049},{"k":"SA+","x":-0.45,"y":0.055},{"k":"SA+","x":-0.27,"y":0.031},{"k":"SA+","x":-0.1,"y":0.043},{"k":"SA+","x":0,"y":0.034},{"k":"SA+","x":0.09,"y":0.055},{"k":"SA+","x":0.36,"y":0.059},{"k":"SA+","x":0.63,"y":0.055},{"k":"SA+","x":1,"y":0.073},
{"k":"SF-","x":-2,"y":-0.043},{"k":"SF-","x":-1.81,"y":-0.055},{"k":"SF-","x":-1.59,"y":-0.067},{"k":"SF-","x":-1.48,"y":-0.067},{"k":"SF-","x":-1.37,"y":-0.079},{"k":"SF-","x":-1.26,"y":-0.061},{"k":"SF-","x":-1.16,"y":-0.067},{"k":"SF-","x":-1.05,"y":-0.079},{"k":"SF-","x":-0.94,"y":-0.061},{"k":"SF-","x":-0.78,"y":-0.043},{"k":"SF-","x":-0.7,"y":-0.061},{"k":"SF-","x":-0.59,"y":-0.024},{"k":"SF-","x":-0.45,"y":-0.016},{"k":"SF-","x":-0.32,"y":-0.018},{"k":"SF-","x":-0.18,"y":-0.031},{"k":"SF-","x":0,"y":-0.043},{"k":"SF-","x":0.22,"y":-0.043},{"k":"SF-","x":0.49,"y":-0.049},{"k":"SF-","x":0.76,"y":-0.049},{"k":"SF-","x":1,"y":-0.049},
{"k":"SA-","x":-2,"y":-0.043},{"k":"SA-","x":-1.72,"y":-0.061},{"k":"SA-","x":-1.54,"y":-0.092},{"k":"SA-","x":-1.4,"y":-0.073},{"k":"SA-","x":-1.26,"y":-0.073},{"k":"SA-","x":-1.1,"y":-0.043},{"k":"SA-","x":-0.94,"y":-0.037},{"k":"SA-","x":-0.72,"y":-0.024},{"k":"SA-","x":-0.56,"y":-0.018},{"k":"SA-","x":-0.32,"y":-0.024},{"k":"SA-","x":-0.18,"y":-0.037},{"k":"SA-","x":0,"y":-0.037},{"k":"SA-","x":0.22,"y":-0.031},{"k":"SA-","x":0.49,"y":-0.043},{"k":"SA-","x":0.76,"y":-0.043},{"k":"SA-","x":1,"y":-0.043}
],
"n6": [
{"k":"CF+","x":-2,"y":0.86},{"k":"CF+","x":-1.93,"y":0.77},{"k":"CF+","x":-1.85,"y":0.78},{"k":"CF+","x":-1.75,"y":0.62},{"k":"CF+","x":-1.69,"y":0.75},{"k":"CF+","x":-1.64,"y":1.23},{"k":"CF+","x":-1.58,"y":1.6},{"k":"CF+","x":-1.51,"y":1.47},{"k":"CF+","x":-1.46,"y":1.43},{"k":"CF+","x":-1.38,"y":1.19},{"k":"CF+","x":-1.33,"y":1.23},{"k":"CF+","x":-1.27,"y":1.07},{"k":"CF+","x":-1.22,"y":0.97},{"k":"CF+","x":-1.17,"y":1.15},{"k":"CF+","x":-1.1,"y":1.75},{"k":"CF+","x":-1.06,"y":1.98},{"k":"CF+","x":-1.01,"y":1.59},{"k":"CF+","x":-0.93,"y":1.15},{"k":"CF+","x":-0.88,"y":1.19},{"k":"CF+","x":-0.81,"y":1.31},{"k":"CF+","x":-0.74,"y":1.03},{"k":"CF+","x":-0.69,"y":0.79},{"k":"CF+","x":-0.59,"y":0.57},{"k":"CF+","x":-0.43,"y":0.45},{"k":"CF+","x":-0.3,"y":0.36},{"k":"CF+","x":-0.16,"y":0.38},{"k":"CF+","x":0,"y":0.28},{"k":"CF+","x":0.1,"y":0.22},{"k":"CF+","x":0.36,"y":0.22},{"k":"CF+","x":0.63,"y":0.17},{"k":"CF+","x":1,"y":0.12},
{"k":"CA+","x":-2,"y":0.75},{"k":"CA+","x":-1.93,"y":0.62},{"k":"CA+","x":-1.83,"y":0.67},{"k":"CA+","x":-1.75,"y":0.75},{"k":"CA+","x":-1.67,"y":1.19},{"k":"CA+","x":-1.59,"y":1.59},{"k":"CA+","x":-1.54,"y":1.43},{"k":"CA+","x":-1.48,"y":1.31},{"k":"CA+","x":-1.4,"y":1.51},{"k":"CA+","x":-1.33,"y":1.15},{"k":"CA+","x":-1.27,"y":0.87},{"k":"CA+","x":-1.17,"y":0.83},{"k":"CA+","x":-1.11,"y":1.11},{"k":"CA+","x":-1.06,"y":1.83},{"k":"CA+","x":-1.02,"y":2.24},{"k":"CA+","x":-0.97,"y":1.83},{"k":"CA+","x":-0.93,"y":1.51},{"k":"CA+","x":-0.85,"y":1.31},{"k":"CA+","x":-0.8,"y":1.15},{"k":"CA+","x":-0.72,"y":0.87},{"k":"CA+","x":-0.64,"y":0.63},{"k":"CA+","x":-0.53,"y":0.51},{"k":"CA+","x":-0.43,"y":0.44},{"k":"CA+","x":-0.3,"y":0.44},{"k":"CA+","x":-0.16,"y":0.4},{"k":"CA+","x":-0.08,"y":0.32},{"k":"CA+","x":0,"y":0.22},{"k":"CA+","x":0.1,"y":0.22},{"k":"CA+","x":0.36,"y":0.22},{"k":"CA+","x":0.63,"y":0.17},{"k":"CA+","x":1,"y":0.12},
{"k":"CF-","x":-2,"y":-0.71},{"k":"CF-","x":-1.83,"y":-0.75},{"k":"CF-","x":-1.69,"y":-0.83},{"k":"CF-","x":-1.62,"y":-1.03},{"k":"CF-","x":-1.54,"y":-1.35},{"k":"CF-","x":-1.43,"y":-1.48},{"k":"CF-","x":-1.38,"y":-1.43},{"k":"CF-","x":-1.31,"y":-1.27},{"k":"CF-","x":-1.25,"y":-1.43},{"k":"CF-","x":-1.19,"y":-1.67},{"k":"CF-","x":-1.14,"y":-1.55},{"k":"CF-","x":-1.06,"y":-1.03},{"k":"CF-","x":-0.98,"y":-0.63},{"k":"CF-","x":-0.93,"y":-0.49},{"k":"CF-","x":-0.85,"y":-0.71},{"k":"CF-","x":-0.74,"y":-1.11},{"k":"CF-","x":-0.67,"y":-1.39},{"k":"CF-","x":-0.61,"y":-1.31},{"k":"CF-","x":-0.56,"y":-1.23},{"k":"CF-","x":-0.49,"y":-1.43},{"k":"CF-","x":-0.43,"y":-1.03},{"k":"CF-","x":-0.35,"y":-0.63},{"k":"CF-","x":-0.24,"y":-0.44},{"k":"CF-","x":-0.11,"y":-0.38},{"k":"CF-","x":-0.03,"y":-0.44},{"k":"CF-","x":0,"y":-0.56},{"k":"CF-","x":0.05,"y":-1.11},{"k":"CF-","x":0.1,"y":-1.59},{"k":"CF-","x":0.15,"y":-1.35},{"k":"CF-","x":0.21,"y":-1.15},{"k":"CF-","x":0.29,"y":-1.11},{"k":"CF-","x":0.36,"y":-0.97},{"k":"CF-","x":0.47,"y":-1.15},{"k":"CF-","x":0.55,"y":-1.03},{"k":"CF-","x":0.63,"y":-0.91},{"k":"CF-","x":0.71,"y":-0.95},{"k":"CF-","x":0.79,"y":-0.71},{"k":"CF-","x":0.89,"y":-0.52},{"k":"CF-","x":1,"y":-0.48},
{"k":"CA-","x":-2,"y":-0.63},{"k":"CA-","x":-1.9,"y":-0.63},{"k":"CA-","x":-1.83,"y":-0.91},{"k":"CA-","x":-1.75,"y":-0.95},{"k":"CA-","x":-1.67,"y":-1.11},{"k":"CA-","x":-1.59,"y":-0.99},{"k":"CA-","x":-1.51,"y":-1.07},{"k":"CA-","x":-1.43,"y":-1.35},{"k":"CA-","x":-1.33,"y":-1.67},{"k":"CA-","x":-1.25,"y":-1.43},{"k":"CA-","x":-1.17,"y":-1.19},{"k":"CA-","x":-1.09,"y":-0.99},{"k":"CA-","x":-1.01,"y":-0.87},{"k":"CA-","x":-0.96,"y":-0.56},{"k":"CA-","x":-0.88,"y":-0.79},{"k":"CA-","x":-0.8,"y":-1.03},{"k":"CA-","x":-0.69,"y":-1.07},{"k":"CA-","x":-0.59,"y":-1.19},{"k":"CA-","x":-0.51,"y":-1.27},{"k":"CA-","x":-0.45,"y":-1.03},{"k":"CA-","x":-0.38,"y":-0.63},{"k":"CA-","x":-0.24,"y":-0.48},{"k":"CA-","x":-0.11,"y":-0.48},{"k":"CA-","x":0,"y":-0.63},{"k":"CA-","x":0.05,"y":-1.03},{"k":"CA-","x":0.1,"y":-1.55},{"k":"CA-","x":0.15,"y":-1.19},{"k":"CA-","x":0.23,"y":-0.99},{"k":"CA-","x":0.31,"y":-0.95},{"k":"CA-","x":0.36,"y":-1.03},{"k":"CA-","x":0.47,"y":-1.23},{"k":"CA-","x":0.58,"y":-0.99},{"k":"CA-","x":0.68,"y":-0.83},{"k":"CA-","x":0.79,"y":-0.63},{"k":"CA-","x":0.89,"y":-0.56},{"k":"CA-","x":1,"y":-0.56},
{"k":"SF+","x":-2,"y":0.065},{"k":"SF+","x":-1.85,"y":0.055},{"k":"SF+","x":-1.75,"y":0.046},{"k":"SF+","x":-1.59,"y":0.059},{"k":"SF+","x":-1.43,"y":0.055},{"k":"SF+","x":-1.27,"y":0.046},{"k":"SF+","x":-1.11,"y":0.051},{"k":"SF+","x":-0.96,"y":0.049},{"k":"SF+","x":-0.69,"y":0.051},{"k":"SF+","x":-0.43,"y":0.054},{"k":"SF+","x":-0.16,"y":0.059},{"k":"SF+","x":0,"y":0.051},{"k":"SF+","x":0.1,"y":0.043},{"k":"SF+","x":0.36,"y":0.055},{"k":"SF+","x":0.63,"y":0.055},{"k":"SF+","x":1,"y":0.059},
{"k":"SA+","x":-2,"y":0.055},{"k":"SA+","x":-1.85,"y":0.051},{"k":"SA+","x":-1.67,"y":0.061},{"k":"SA+","x":-1.48,"y":0.055},{"k":"SA+","x":-1.35,"y":0.059},{"k":"SA+","x":-1.17,"y":0.037},{"k":"SA+","x":-1.06,"y":0.049},{"k":"SA+","x":-0.9,"y":0.051},{"k":"SA+","x":-0.69,"y":0.055},{"k":"SA+","x":-0.43,"y":0.051},{"k":"SA+","x":-0.16,"y":0.061},{"k":"SA+","x":0,"y":0.049},{"k":"SA+","x":0.15,"y":0.037},{"k":"SA+","x":0.36,"y":0.049},{"k":"SA+","x":0.76,"y":0.055},{"k":"SA+","x":1,"y":0.061},
{"k":"SF-","x":-2,"y":-0.055},{"k":"SF-","x":-1.8,"y":-0.064},{"k":"SF-","x":-1.62,"y":-0.073},{"k":"SF-","x":-1.43,"y":-0.061},{"k":"SF-","x":-1.33,"y":-0.049},{"k":"SF-","x":-1.19,"y":-0.073},{"k":"SF-","x":-1.09,"y":-0.049},{"k":"SF-","x":-0.96,"y":-0.037},{"k":"SF-","x":-0.82,"y":-0.055},{"k":"SF-","x":-0.64,"y":-0.079},{"k":"SF-","x":-0.45,"y":-0.073},{"k":"SF-","x":-0.35,"y":-0.049},{"k":"SF-","x":-0.24,"y":-0.037},{"k":"SF-","x":0,"y":-0.031},{"k":"SF-","x":0.23,"y":-0.037},{"k":"SF-","x":0.5,"y":-0.043},{"k":"SF-","x":0.76,"y":-0.049},{"k":"SF-","x":1,"y":-0.051},
{"k":"SA-","x":-2,"y":-0.061},{"k":"SA-","x":-1.8,"y":-0.049},{"k":"SA-","x":-1.62,"y":-0.061},{"k":"SA-","x":-1.43,"y":-0.055},{"k":"SA-","x":-1.27,"y":-0.043},{"k":"SA-","x":-1.11,"y":-0.043},{"k":"SA-","x":-0.96,"y":-0.049},{"k":"SA-","x":-0.74,"y":-0.043},{"k":"SA-","x":-0.59,"y":-0.055},{"k":"SA-","x":-0.43,"y":-0.043},{"k":"SA-","x":-0.3,"y":-0.031},{"k":"SA-","x":0,"y":-0.031},{"k":"SA-","x":0.23,"y":-0.043},{"k":"SA-","x":0.5,"y":-0.046},{"k":"SA-","x":0.76,"y":-0.046},{"k":"SA-","x":1,"y":-0.049}
],
"n7": [
{"k":"CF+","x":-2,"y":1.27},{"k":"CF+","x":-1.91,"y":0.99},{"k":"CF+","x":-1.8,"y":0.79},{"k":"CF+","x":-1.75,"y":0.67},{"k":"CF+","x":-1.67,"y":0.75},{"k":"CF+","x":-1.59,"y":1.31},{"k":"CF+","x":-1.51,"y":1.76},{"k":"CF+","x":-1.45,"y":1.55},{"k":"CF+","x":-1.39,"y":1.15},{"k":"CF+","x":-1.35,"y":1.23},{"k":"CF+","x":-1.29,"y":1.39},{"k":"CF+","x":-1.24,"y":1.11},{"k":"CF+","x":-1.18,"y":0.79},{"k":"CF+","x":-1.13,"y":0.65},{"k":"CF+","x":-1.08,"y":0.79},{"k":"CF+","x":-1.03,"y":1.43},{"k":"CF+","x":-0.99,"y":2.0},{"k":"CF+","x":-0.94,"y":1.79},{"k":"CF+","x":-0.89,"y":1.51},{"k":"CF+","x":-0.83,"y":1.44},{"k":"CF+","x":-0.75,"y":1.43},{"k":"CF+","x":-0.7,"y":1.19},{"k":"CF+","x":-0.62,"y":0.75},{"k":"CF+","x":-0.51,"y":0.6},{"k":"CF+","x":-0.4,"y":0.48},{"k":"CF+","x":-0.26,"y":0.33},{"k":"CF+","x":-0.13,"y":0.29},{"k":"CF+","x":0,"y":0.33},{"k":"CF+","x":0.22,"y":0.28},{"k":"CF+","x":0.49,"y":0.2},{"k":"CF+","x":0.68,"y":0.16},{"k":"CF+","x":1,"y":0.16},
{"k":"CA+","x":-2,"y":1.11},{"k":"CA+","x":-1.91,"y":0.75},{"k":"CA+","x":-1.8,"y":0.87},{"k":"CA+","x":-1.72,"y":0.75},{"k":"CA+","x":-1.64,"y":1.07},{"k":"CA+","x":-1.51,"y":1.67},{"k":"CA+","x":-1.43,"y":1.39},{"k":"CA+","x":-1.37,"y":1.15},{"k":"CA+","x":-1.32,"y":1.31},{"k":"CA+","x":-1.26,"y":1.19},{"k":"CA+","x":-1.18,"y":0.79},{"k":"CA+","x":-1.13,"y":0.67},{"k":"CA+","x":-1.08,"y":0.75},{"k":"CA+","x":-1.02,"y":1.35},{"k":"CA+","x":-0.98,"y":1.83},{"k":"CA+","x":-0.93,"y":1.19},{"k":"CA+","x":-0.87,"y":1.35},{"k":"CA+","x":-0.82,"y":1.67},{"k":"CA+","x":-0.75,"y":1.59},{"k":"CA+","x":-0.7,"y":1.19},{"k":"CA+","x":-0.62,"y":0.79},{"k":"CA+","x":-0.51,"y":0.59},{"k":"CA+","x":-0.37,"y":0.44},{"k":"CA+","x":-0.26,"y":0.33},{"k":"CA+","x":-0.13,"y":0.28},{"k":"CA+","x":0,"y":0.3},{"k":"CA+","x":0.22,"y":0.28},{"k":"CA+","x":0.49,"y":0.2},{"k":"CA+","x":1,"y":0.14},
{"k":"CF-","x":-2,"y":-0.75},{"k":"CF-","x":-1.91,"y":-0.91},{"k":"CF-","x":-1.8,"y":-0.79},{"k":"CF-","x":-1.72,"y":-0.83},{"k":"CF-","x":-1.59,"y":-1.11},{"k":"CF-","x":-1.45,"y":-1.39},{"k":"CF-","x":-1.37,"y":-1.39},{"k":"CF-","x":-1.26,"y":-1.63},{"k":"CF-","x":-1.18,"y":-1.49},{"k":"CF-","x":-1.1,"y":-1.27},{"k":"CF-","x":-1.05,"y":-0.99},{"k":"CF-","x":-0.99,"y":-0.67},{"k":"CF-","x":-0.91,"y":-0.95},{"k":"CF-","x":-0.83,"y":-1.11},{"k":"CF-","x":-0.75,"y":-1.19},{"k":"CF-","x":-0.67,"y":-1.39},{"k":"CF-","x":-0.61,"y":-1.67},{"k":"CF-","x":-0.56,"y":-1.27},{"k":"CF-","x":-0.51,"y":-0.79},{"k":"CF-","x":-0.43,"y":-0.6},{"k":"CF-","x":-0.32,"y":-0.52},{"k":"CF-","x":-0.18,"y":-0.44},{"k":"CF-","x":-0.12,"y":-0.48},{"k":"CF-","x":-0.07,"y":-0.79},{"k":"CF-","x":-0.03,"y":-1.43},{"k":"CF-","x":-0.01,"y":-1.79},{"k":"CF-","x":0.03,"y":-1.43},{"k":"CF-","x":0.09,"y":-1.19},{"k":"CF-","x":0.17,"y":-1.07},{"k":"CF-","x":0.28,"y":-0.99},{"k":"CF-","x":0.36,"y":-0.91},{"k":"CF-","x":0.44,"y":-1.03},{"k":"CF-","x":0.55,"y":-0.95},{"k":"CF-","x":0.68,"y":-0.67},{"k":"CF-","x":0.85,"y":-0.63},{"k":"CF-","x":1,"y":-0.44},
{"k":"CA-","x":-2,"y":-0.63},{"k":"CA-","x":-1.91,"y":-0.59},{"k":"CA-","x":-1.83,"y":-0.87},{"k":"CA-","x":-1.72,"y":-0.87},{"k":"CA-","x":-1.64,"y":-1.03},{"k":"CA-","x":-1.54,"y":-1.19},{"k":"CA-","x":-1.45,"y":-1.23},{"k":"CA-","x":-1.37,"y":-1.43},{"k":"CA-","x":-1.33,"y":-1.83},{"k":"CA-","x":-1.29,"y":-1.55},{"k":"CA-","x":-1.21,"y":-1.43},{"k":"CA-","x":-1.1,"y":-1.19},{"k":"CA-","x":-1.05,"y":-0.87},{"k":"CA-","x":-1.0,"y":-0.56},{"k":"CA-","x":-0.94,"y":-0.79},{"k":"CA-","x":-0.86,"y":-1.07},{"k":"CA-","x":-0.8,"y":-1.03},{"k":"CA-","x":-0.75,"y":-1.43},{"k":"CA-","x":-0.72,"y":-1.59},{"k":"CA-","x":-0.68,"y":-1.11},{"k":"CA-","x":-0.64,"y":-1.31},{"k":"CA-","x":-0.59,"y":-1.19},{"k":"CA-","x":-0.51,"y":-0.83},{"k":"CA-","x":-0.45,"y":-0.71},{"k":"CA-","x":-0.32,"y":-0.59},{"k":"CA-","x":-0.18,"y":-0.48},{"k":"CA-","x":-0.1,"y":-0.56},{"k":"CA-","x":-0.06,"y":-1.03},{"k":"CA-","x":-0.02,"y":-1.83},{"k":"CA-","x":0.02,"y":-1.51},{"k":"CA-","x":0.06,"y":-1.19},{"k":"CA-","x":0.14,"y":-1.03},{"k":"CA-","x":0.25,"y":-1.11},{"k":"CA-","x":0.33,"y":-1.11},{"k":"CA-","x":0.39,"y":-0.91},{"k":"CA-","x":0.49,"y":-0.83},{"k":"CA-","x":0.63,"y":-0.63},{"k":"CA-","x":0.79,"y":-0.59},{"k":"CA-","x":1,"y":-0.52},
{"k":"SF+","x":-2,"y":0.051},{"k":"SF+","x":-1.91,"y":0.051},{"k":"SF+","x":-1.8,"y":0.037},{"k":"SF+","x":-1.67,"y":0.055},{"k":"SF+","x":-1.51,"y":0.073},{"k":"SF+","x":-1.37,"y":0.055},{"k":"SF+","x":-1.29,"y":0.064},{"k":"SF+","x":-1.21,"y":0.049},{"k":"SF+","x":-1.13,"y":0.031},{"k":"SF+","x":-0.99,"y":0.034},{"k":"SF+","x":-0.72,"y":0.046},{"k":"SF+","x":-0.45,"y":0.049},{"k":"SF+","x":-0.18,"y":0.049},{"k":"SF+","x":0,"y":0.055},{"k":"SF+","x":0.36,"y":0.061},{"k":"SF+","x":0.68,"y":0.055},{"k":"SF+","x":1,"y":0.064},
{"k":"SA+","x":-2,"y":0.043},{"k":"SA+","x":-1.8,"y":0.055},{"k":"SA+","x":-1.64,"y":0.061},{"k":"SA+","x":-1.48,"y":0.061},{"k":"SA+","x":-1.37,"y":0.049},{"k":"SA+","x":-1.29,"y":0.061},{"k":"SA+","x":-1.18,"y":0.043},{"k":"SA+","x":-1.05,"y":0.037},{"k":"SA+","x":-0.72,"y":0.043},{"k":"SA+","x":-0.45,"y":0.043},{"k":"SA+","x":-0.18,"y":0.049},{"k":"SA+","x":0,"y":0.049},{"k":"SA+","x":0.36,"y":0.059},{"k":"SA+","x":0.76,"y":0.055},{"k":"SA+","x":1,"y":0.061},
{"k":"SF-","x":-2,"y":-0.061},{"k":"SF-","x":-1.94,"y":-0.073},{"k":"SF-","x":-1.8,"y":-0.055},{"k":"SF-","x":-1.67,"y":-0.061},{"k":"SF-","x":-1.48,"y":-0.067},{"k":"SF-","x":-1.32,"y":-0.073},{"k":"SF-","x":-1.16,"y":-0.061},{"k":"SF-","x":-0.99,"y":-0.043},{"k":"SF-","x":-0.78,"y":-0.055},{"k":"SF-","x":-0.67,"y":-0.061},{"k":"SF-","x":-0.62,"y":-0.073},{"k":"SF-","x":-0.53,"y":-0.043},{"k":"SF-","x":-0.4,"y":-0.037},{"k":"SF-","x":-0.18,"y":-0.027},{"k":"SF-","x":-0.07,"y":-0.037},{"k":"SF-","x":0,"y":-0.043},{"k":"SF-","x":0.22,"y":-0.043},{"k":"SF-","x":0.49,"y":-0.043},{"k":"SF-","x":0.76,"y":-0.055},{"k":"SF-","x":1,"y":-0.049},
{"k":"SA-","x":-2,"y":-0.049},{"k":"SA-","x":-1.91,"y":-0.046},{"k":"SA-","x":-1.8,"y":-0.073},{"k":"SA-","x":-1.64,"y":-0.055},{"k":"SA-","x":-1.43,"y":-0.073},{"k":"SA-","x":-1.26,"y":-0.061},{"k":"SA-","x":-1.1,"y":-0.049},{"k":"SA-","x":-0.99,"y":-0.043},{"k":"SA-","x":-0.72,"y":-0.049},{"k":"SA-","x":-0.62,"y":-0.067},{"k":"SA-","x":-0.51,"y":-0.043},{"k":"SA-","x":-0.32,"y":-0.034},{"k":"SA-","x":-0.07,"y":-0.037},{"k":"SA-","x":0,"y":-0.037},{"k":"SA-","x":0.22,"y":-0.043},{"k":"SA-","x":0.49,"y":-0.049},{"k":"SA-","x":0.76,"y":-0.059},{"k":"SA-","x":1,"y":-0.055}
]
},
"columns": 2,
"bounds": "flush",
"spacing": {"row": 0, "column": 184},
"resolve": {"scale": {"color": "independent", "strokeDash": "independent"}},
"concat": [
 {"width": 379, "height": 210,
  "resolve": {"scale": {"y": "independent"}, "axis": {"x": "independent", "y": "independent"}},
  "layer": [
   {"data": {"name": "n2"}, "transform": [{"filter": "indexof(datum.k,'C')==0"}], "mark": {"type": "line", "clip": true},
    "encoding": {
     "x": {"field": "x", "type": "quantitative", "scale": {"domain": [-2, 1], "nice": false, "zero": false}, "axis": {"orient": "bottom", "values": [-2, -1.5, -1, -0.5, 0, 0.5, 1], "tickSize": -7, "labels": false, "title": null}},
     "y": {"field": "y", "type": "quantitative", "scale": {"domain": [-2.5, 2.5], "nice": false, "zero": false}, "axis": {"orient": "left", "values": [-2, -1, 0, 1, 2], "tickSize": -7, "labelPadding": 16, "format": "d", "title": null}},
     "color": {"field": "k", "type": "nominal", "scale": {"domain": ["CF+","SF+","CA+","SA+","CF-","SF-","CA-","SA-"], "range": ["#0000ff","#ff0000","#0000ff","#ff0000","#0000ff","#ff0000","#0000ff","#ff0000"]}, "legend": {"orient": "top-right", "offset": 5, "title": null, "values": ["CF+","SF+","CA+","SA+"], "labelExpr": "datum.value=='CF+'?'Co-d(FM)':datum.value=='SF+'?'Si-p(FM)':datum.value=='CA+'?'Co-d(AFM)':'Si-p(AFM)'", "symbolType": "M-3,0H3", "symbolSize": 144, "symbolStrokeWidth": 2, "labelFont": "Liberation Mono", "labelFontSize": 14, "labelColor": "black", "labelOffset": 16, "rowPadding": 5, "padding": 0}},
     "strokeDash": {"field": "k", "type": "nominal", "scale": {"domain": ["CF+","SF+","CA+","SA+","CF-","SF-","CA-","SA-"], "range": [[1,0],[1,0],[6,4],[6,4],[1,0],[1,0],[6,4],[6,4]]}, "legend": {"orient": "top-right", "offset": 5, "title": null, "values": ["CF+","SF+","CA+","SA+"], "labelExpr": "datum.value=='CF+'?'Co-d(FM)':datum.value=='SF+'?'Si-p(FM)':datum.value=='CA+'?'Co-d(AFM)':'Si-p(AFM)'", "symbolType": "M-3,0H3", "symbolSize": 144, "symbolStrokeWidth": 2, "labelFont": "Liberation Mono", "labelFontSize": 14, "labelColor": "black", "labelOffset": 16, "rowPadding": 5, "padding": 0}}
    }},
   {"data": {"name": "n2"}, "transform": [{"filter": "indexof(datum.k,'S')==0"}], "mark": {"type": "line", "clip": true},
    "encoding": {
     "x": {"field": "x", "type": "quantitative", "scale": {"domain": [-2, 1], "nice": false, "zero": false}, "axis": {"orient": "bottom", "values": [-1.75, -1.25, -0.75, -0.25, 0.25, 0.75], "tickSize": -4, "labels": false, "title": null}},
     "y": {"field": "y", "type": "quantitative", "scale": {"domain": [-0.389, 0.389], "nice": false, "zero": false}, "axis": {"orient": "right", "values": [-0.3, -0.2, -0.1, 0, 0.1, 0.2, 0.3], "tickSize": -7, "labelPadding": 15, "format": ".1f", "title": null}},
     "color": {"field": "k", "type": "nominal", "scale": {"domain": ["CF+","SF+","CA+","SA+","CF-","SF-","CA-","SA-"], "range": ["#0000ff","#ff0000","#0000ff","#ff0000","#0000ff","#ff0000","#0000ff","#ff0000"]}, "legend": {"orient": "top-right", "offset": 5, "title": null, "values": ["CF+","SF+","CA+","SA+"], "labelExpr": "datum.value=='CF+'?'Co-d(FM)':datum.value=='SF+'?'Si-p(FM)':datum.value=='CA+'?'Co-d(AFM)':'Si-p(AFM)'", "symbolType": "M-3,0H3", "symbolSize": 144, "symbolStrokeWidth": 2, "labelFont": "Liberation Mono", "labelFontSize": 14, "labelColor": "black", "labelOffset": 16, "rowPadding": 5, "padding": 0}},
     "strokeDash": {"field": "k", "type": "nominal", "scale": {"domain": ["CF+","SF+","CA+","SA+","CF-","SF-","CA-","SA-"], "range": [[1,0],[1,0],[6,4],[6,4],[1,0],[1,0],[6,4],[6,4]]}, "legend": {"orient": "top-right", "offset": 5, "title": null, "values": ["CF+","SF+","CA+","SA+"], "labelExpr": "datum.value=='CF+'?'Co-d(FM)':datum.value=='SF+'?'Si-p(FM)':datum.value=='CA+'?'Co-d(AFM)':'Si-p(AFM)'", "symbolType": "M-3,0H3", "symbolSize": 144, "symbolStrokeWidth": 2, "labelFont": "Liberation Mono", "labelFontSize": 14, "labelColor": "black", "labelOffset": 16, "rowPadding": 5, "padding": 0}}
    }},
   {"data": {"values": [{}]}, "mark": "rule",
    "encoding": {"x": {"datum": -2, "scale": {"domain": [-2, 1], "nice": false, "zero": false}, "axis": {"orient": "top", "values": [-1.75, -1.25, -0.75, -0.25, 0.25, 0.75], "tickSize": -4, "labels": false, "title": null}}, "x2": {"datum": 1},
     "y": {"datum": 0, "scale": {"domain": [-2.5, 2.5], "nice": false, "zero": false}, "axis": {"orient": "left", "values": [-1.5, -0.5, 0.5, 1.5], "tickSize": -4, "labels": false, "title": null}}}},
   {"data": {"values": [{}]}, "mark": "rule",
    "encoding": {"x": {"datum": 0, "scale": {"domain": [-2, 1], "nice": false, "zero": false}, "axis": {"orient": "top", "values": [-1.5, -1, -0.5, 0.5], "tickSize": -7, "labels": false, "title": null}},
     "y": {"datum": -0.389, "scale": {"domain": [-0.389, 0.389], "nice": false, "zero": false}, "axis": {"orient": "right", "values": [-0.35, -0.25, -0.15, -0.05, 0.05, 0.15, 0.25, 0.35], "tickSize": -4, "labels": false, "title": null}}, "y2": {"datum": 0.389}}},
   {"data": {"values": [{}]}, "mark": {"type": "text", "text": "n=2"},
    "encoding": {"x": {"datum": -0.39, "scale": {"domain": [-2, 1], "nice": false, "zero": false}, "axis": null}, "y": {"datum": 1.9, "scale": {"domain": [-2.5, 2.5], "nice": false, "zero": false}, "axis": null}}}
  ]},
 {"width": 370, "height": 210,
  "resolve": {"scale": {"y": "independent"}, "axis": {"x": "independent", "y": "independent"}},
  "layer": [
   {"data": {"name": "n3"}, "transform": [{"filter": "indexof(datum.k,'C')==0"}], "mark": {"type": "line", "clip": true},
    "encoding": {
     "x": {"field": "x", "type": "quantitative", "scale": {"domain": [-2, 1], "nice": false, "zero": false}, "axis": {"orient": "bottom", "values": [-2, -1.5, -1, -0.5, 0, 0.5, 1], "tickSize": -7, "labels": false, "title": null}},
     "y": {"field": "y", "type": "quantitative", "scale": {"domain": [-2.5, 2.5], "nice": false, "zero": false}, "axis": {"orient": "left", "values": [-2, -1, 0, 1, 2], "tickSize": -7, "labelPadding": 16, "format": "d", "title": null}},
     "color": {"field": "k", "type": "nominal", "scale": {"domain": ["CF+","SF+","CA+","SA+","CF-","SF-","CA-","SA-"], "range": ["#0000ff","#ff0000","#0000ff","#ff0000","#0000ff","#ff0000","#0000ff","#ff0000"]}, "legend": null},
     "strokeDash": {"field": "k", "type": "nominal", "scale": {"domain": ["CF+","SF+","CA+","SA+","CF-","SF-","CA-","SA-"], "range": [[1,0],[1,0],[6,4],[6,4],[1,0],[1,0],[6,4],[6,4]]}, "legend": null}
    }},
   {"data": {"name": "n3"}, "transform": [{"filter": "indexof(datum.k,'S')==0"}], "mark": {"type": "line", "clip": true},
    "encoding": {
     "x": {"field": "x", "type": "quantitative", "scale": {"domain": [-2, 1], "nice": false, "zero": false}, "axis": {"orient": "bottom", "values": [-1.75, -1.25, -0.75, -0.25, 0.25, 0.75], "tickSize": -4, "labels": false, "title": null}},
     "y": {"field": "y", "type": "quantitative", "scale": {"domain": [-0.389, 0.389], "nice": false, "zero": false}, "axis": {"orient": "right", "values": [-0.3, -0.2, -0.1, 0, 0.1, 0.2, 0.3], "tickSize": -7, "labelPadding": 15, "format": ".1f", "title": null}},
     "color": {"field": "k", "type": "nominal", "scale": {"domain": ["CF+","SF+","CA+","SA+","CF-","SF-","CA-","SA-"], "range": ["#0000ff","#ff0000","#0000ff","#ff0000","#0000ff","#ff0000","#0000ff","#ff0000"]}, "legend": null},
     "strokeDash": {"field": "k", "type": "nominal", "scale": {"domain": ["CF+","SF+","CA+","SA+","CF-","SF-","CA-","SA-"], "range": [[1,0],[1,0],[6,4],[6,4],[1,0],[1,0],[6,4],[6,4]]}, "legend": null}
    }},
   {"data": {"values": [{}]}, "mark": "rule",
    "encoding": {"x": {"datum": -2, "scale": {"domain": [-2, 1], "nice": false, "zero": false}, "axis": {"orient": "top", "values": [-1.75, -1.25, -0.75, -0.25, 0.25, 0.75], "tickSize": -4, "labels": false, "title": null}}, "x2": {"datum": 1},
     "y": {"datum": 0, "scale": {"domain": [-2.5, 2.5], "nice": false, "zero": false}, "axis": {"orient": "left", "values": [-1.5, -0.5, 0.5, 1.5], "tickSize": -4, "labels": false, "title": null}}}},
   {"data": {"values": [{}]}, "mark": "rule",
    "encoding": {"x": {"datum": 0, "scale": {"domain": [-2, 1], "nice": false, "zero": false}, "axis": {"orient": "top", "values": [-1.5, -1, -0.5, 0.5], "tickSize": -7, "labels": false, "title": null}},
     "y": {"datum": -0.389, "scale": {"domain": [-0.389, 0.389], "nice": false, "zero": false}, "axis": {"orient": "right", "values": [-0.35, -0.25, -0.15, -0.05, 0.05, 0.15, 0.25, 0.35], "tickSize": -4, "labels": false, "title": null}}, "y2": {"datum": 0.389}}},
   {"data": {"values": [{}]}, "mark": {"type": "text", "text": "n=3"},
    "encoding": {"x": {"datum": -0.28, "scale": {"domain": [-2, 1], "nice": false, "zero": false}, "axis": null}, "y": {"datum": 1.9, "scale": {"domain": [-2.5, 2.5], "nice": false, "zero": false}, "axis": null}}}
  ]},
 {"width": 379, "height": 210,
  "resolve": {"scale": {"y": "independent"}, "axis": {"x": "independent", "y": "independent"}},
  "layer": [
   {"data": {"name": "n4"}, "transform": [{"filter": "indexof(datum.k,'C')==0"}], "mark": {"type": "line", "clip": true},
    "encoding": {
     "x": {"field": "x", "type": "quantitative", "scale": {"domain": [-2, 1], "nice": false, "zero": false}, "axis": {"orient": "bottom", "values": [-2, -1.5, -1, -0.5, 0, 0.5, 1], "tickSize": -7, "labels": false, "title": null}},
     "y": {"field": "y", "type": "quantitative", "scale": {"domain": [-2.5, 2.5], "nice": false, "zero": false}, "axis": {"orient": "left", "values": [-2, -1, 0, 1, 2], "tickSize": -7, "labelPadding": 16, "format": "d", "title": "Co-d (States/eV)", "titlePadding": 11}},
     "color": {"field": "k", "type": "nominal", "scale": {"domain": ["CF+","SF+","CA+","SA+","CF-","SF-","CA-","SA-"], "range": ["#0000ff","#ff0000","#0000ff","#ff0000","#0000ff","#ff0000","#0000ff","#ff0000"]}, "legend": null},
     "strokeDash": {"field": "k", "type": "nominal", "scale": {"domain": ["CF+","SF+","CA+","SA+","CF-","SF-","CA-","SA-"], "range": [[1,0],[1,0],[6,4],[6,4],[1,0],[1,0],[6,4],[6,4]]}, "legend": null}
    }},
   {"data": {"name": "n4"}, "transform": [{"filter": "indexof(datum.k,'S')==0"}], "mark": {"type": "line", "clip": true},
    "encoding": {
     "x": {"field": "x", "type": "quantitative", "scale": {"domain": [-2, 1], "nice": false, "zero": false}, "axis": {"orient": "bottom", "values": [-1.75, -1.25, -0.75, -0.25, 0.25, 0.75], "tickSize": -4, "labels": false, "title": null}},
     "y": {"field": "y", "type": "quantitative", "scale": {"domain": [-0.389, 0.389], "nice": false, "zero": false}, "axis": {"orient": "right", "values": [-0.3, -0.2, -0.1, 0, 0.1, 0.2, 0.3], "tickSize": -7, "labelPadding": 15, "format": ".1f", "title": "Si-p (States/eV)", "titleAngle": 270, "titleBaseline": "top", "titlePadding": 8}},
     "color": {"field": "k", "type": "nominal", "scale": {"domain": ["CF+","SF+","CA+","SA+","CF-","SF-","CA-","SA-"], "range": ["#0000ff","#ff0000","#0000ff","#ff0000","#0000ff","#ff0000","#0000ff","#ff0000"]}, "legend": null},
     "strokeDash": {"field": "k", "type": "nominal", "scale": {"domain": ["CF+","SF+","CA+","SA+","CF-","SF-","CA-","SA-"], "range": [[1,0],[1,0],[6,4],[6,4],[1,0],[1,0],[6,4],[6,4]]}, "legend": null}
    }},
   {"data": {"values": [{}]}, "mark": "rule",
    "encoding": {"y": {"datum": 0, "scale": {"domain": [-2.5, 2.5], "nice": false, "zero": false}, "axis": {"orient": "left", "values": [-1.5, -0.5, 0.5, 1.5], "tickSize": -4, "labels": false, "title": null}}}},
   {"data": {"values": [{}]}, "mark": "rule",
    "encoding": {"x": {"datum": 0, "scale": {"domain": [-2, 1], "nice": false, "zero": false}, "axis": null},
     "y": {"datum": -0.389, "scale": {"domain": [-0.389, 0.389], "nice": false, "zero": false}, "axis": {"orient": "right", "values": [-0.35, -0.25, -0.15, -0.05, 0.05, 0.15, 0.25, 0.35], "tickSize": -4, "labels": false, "title": null}}, "y2": {"datum": 0.389}}},
   {"data": {"values": [{}]}, "mark": {"type": "text", "text": "n=4"},
    "encoding": {"x": {"datum": -0.41, "scale": {"domain": [-2, 1], "nice": false, "zero": false}, "axis": null}, "y": {"datum": 1.86, "scale": {"domain": [-2.5, 2.5], "nice": false, "zero": false}, "axis": null}}}
  ]},
 {"width": 370, "height": 210,
  "resolve": {"scale": {"y": "independent"}, "axis": {"x": "independent", "y": "independent"}},
  "layer": [
   {"data": {"name": "n5"}, "transform": [{"filter": "indexof(datum.k,'C')==0"}], "mark": {"type": "line", "clip": true},
    "encoding": {
     "x": {"field": "x", "type": "quantitative", "scale": {"domain": [-2, 1], "nice": false, "zero": false}, "axis": {"orient": "bottom", "values": [-2, -1.5, -1, -0.5, 0, 0.5, 1], "tickSize": -7, "labels": false, "title": null}},
     "y": {"field": "y", "type": "quantitative", "scale": {"domain": [-2.5, 2.5], "nice": false, "zero": false}, "axis": {"orient": "left", "values": [-2, -1, 0, 1, 2], "tickSize": -7, "labelPadding": 16, "format": "d", "title": "Co-d (States/eV)", "titlePadding": 11}},
     "color": {"field": "k", "type": "nominal", "scale": {"domain": ["CF+","SF+","CA+","SA+","CF-","SF-","CA-","SA-"], "range": ["#0000ff","#ff0000","#0000ff","#ff0000","#0000ff","#ff0000","#0000ff","#ff0000"]}, "legend": null},
     "strokeDash": {"field": "k", "type": "nominal", "scale": {"domain": ["CF+","SF+","CA+","SA+","CF-","SF-","CA-","SA-"], "range": [[1,0],[1,0],[6,4],[6,4],[1,0],[1,0],[6,4],[6,4]]}, "legend": null}
    }},
   {"data": {"name": "n5"}, "transform": [{"filter": "indexof(datum.k,'S')==0"}], "mark": {"type": "line", "clip": true},
    "encoding": {
     "x": {"field": "x", "type": "quantitative", "scale": {"domain": [-2, 1], "nice": false, "zero": false}, "axis": {"orient": "bottom", "values": [-1.75, -1.25, -0.75, -0.25, 0.25, 0.75], "tickSize": -4, "labels": false, "title": null}},
     "y": {"field": "y", "type": "quantitative", "scale": {"domain": [-0.389, 0.389], "nice": false, "zero": false}, "axis": {"orient": "right", "values": [-0.3, -0.2, -0.1, 0, 0.1, 0.2, 0.3], "tickSize": -7, "labelPadding": 15, "format": ".1f", "title": "Si-p (States/eV)", "titleAngle": 270, "titleBaseline": "top", "titlePadding": 8}},
     "color": {"field": "k", "type": "nominal", "scale": {"domain": ["CF+","SF+","CA+","SA+","CF-","SF-","CA-","SA-"], "range": ["#0000ff","#ff0000","#0000ff","#ff0000","#0000ff","#ff0000","#0000ff","#ff0000"]}, "legend": null},
     "strokeDash": {"field": "k", "type": "nominal", "scale": {"domain": ["CF+","SF+","CA+","SA+","CF-","SF-","CA-","SA-"], "range": [[1,0],[1,0],[6,4],[6,4],[1,0],[1,0],[6,4],[6,4]]}, "legend": null}
    }},
   {"data": {"values": [{}]}, "mark": "rule",
    "encoding": {"y": {"datum": 0, "scale": {"domain": [-2.5, 2.5], "nice": false, "zero": false}, "axis": {"orient": "left", "values": [-1.5, -0.5, 0.5, 1.5], "tickSize": -4, "labels": false, "title": null}}}},
   {"data": {"values": [{}]}, "mark": "rule",
    "encoding": {"x": {"datum": 0, "scale": {"domain": [-2, 1], "nice": false, "zero": false}, "axis": null},
     "y": {"datum": -0.389, "scale": {"domain": [-0.389, 0.389], "nice": false, "zero": false}, "axis": {"orient": "right", "values": [-0.35, -0.25, -0.15, -0.05, 0.05, 0.15, 0.25, 0.35], "tickSize": -4, "labels": false, "title": null}}, "y2": {"datum": 0.389}}},
   {"data": {"values": [{}]}, "mark": {"type": "text", "text": "n=5"},
    "encoding": {"x": {"datum": -0.26, "scale": {"domain": [-2, 1], "nice": false, "zero": false}, "axis": null}, "y": {"datum": 1.86, "scale": {"domain": [-2.5, 2.5], "nice": false, "zero": false}, "axis": null}}}
  ]},
 {"width": 379, "height": 210,
  "resolve": {"scale": {"y": "independent"}, "axis": {"x": "independent", "y": "independent"}},
  "layer": [
   {"data": {"name": "n6"}, "transform": [{"filter": "indexof(datum.k,'C')==0"}], "mark": {"type": "line", "clip": true},
    "encoding": {
     "x": {"field": "x", "type": "quantitative", "scale": {"domain": [-2, 1], "nice": false, "zero": false}, "axis": {"orient": "bottom", "values": [-2, -1.5, -1, -0.5, 0, 0.5, 1], "tickSize": -7, "labelPadding": 18, "format": ".1f", "title": "ENERGY", "titleFontSize": 23, "titlePadding": 16}},
     "y": {"field": "y", "type": "quantitative", "scale": {"domain": [-2.5, 2.5], "nice": false, "zero": false}, "axis": {"orient": "left", "values": [-2, -1, 0, 1, 2], "tickSize": -7, "labelPadding": 16, "format": "d", "title": null}},
     "color": {"field": "k", "type": "nominal", "scale": {"domain": ["CF+","SF+","CA+","SA+","CF-","SF-","CA-","SA-"], "range": ["#0000ff","#ff0000","#0000ff","#ff0000","#0000ff","#ff0000","#0000ff","#ff0000"]}, "legend": null},
     "strokeDash": {"field": "k", "type": "nominal", "scale": {"domain": ["CF+","SF+","CA+","SA+","CF-","SF-","CA-","SA-"], "range": [[1,0],[1,0],[6,4],[6,4],[1,0],[1,0],[6,4],[6,4]]}, "legend": null}
    }},
   {"data": {"name": "n6"}, "transform": [{"filter": "indexof(datum.k,'S')==0"}], "mark": {"type": "line", "clip": true},
    "encoding": {
     "x": {"field": "x", "type": "quantitative", "scale": {"domain": [-2, 1], "nice": false, "zero": false}, "axis": {"orient": "bottom", "values": [-1.75, -1.25, -0.75, -0.25, 0.25, 0.75], "tickSize": -4, "labels": false, "title": null}},
     "y": {"field": "y", "type": "quantitative", "scale": {"domain": [-0.389, 0.389], "nice": false, "zero": false}, "axis": {"orient": "right", "values": [-0.3, -0.2, -0.1, 0, 0.1, 0.2, 0.3], "tickSize": -7, "labelPadding": 15, "format": ".1f", "title": null}},
     "color": {"field": "k", "type": "nominal", "scale": {"domain": ["CF+","SF+","CA+","SA+","CF-","SF-","CA-","SA-"], "range": ["#0000ff","#ff0000","#0000ff","#ff0000","#0000ff","#ff0000","#0000ff","#ff0000"]}, "legend": null},
     "strokeDash": {"field": "k", "type": "nominal", "scale": {"domain": ["CF+","SF+","CA+","SA+","CF-","SF-","CA-","SA-"], "range": [[1,0],[1,0],[6,4],[6,4],[1,0],[1,0],[6,4],[6,4]]}, "legend": null}
    }},
   {"data": {"values": [{}]}, "mark": "rule",
    "encoding": {"y": {"datum": 0, "scale": {"domain": [-2.5, 2.5], "nice": false, "zero": false}, "axis": {"orient": "left", "values": [-1.5, -0.5, 0.5, 1.5], "tickSize": -4, "labels": false, "title": null}}}},
   {"data": {"values": [{}]}, "mark": "rule",
    "encoding": {"x": {"datum": 0, "scale": {"domain": [-2, 1], "nice": false, "zero": false}, "axis": null},
     "y": {"datum": -0.389, "scale": {"domain": [-0.389, 0.389], "nice": false, "zero": false}, "axis": {"orient": "right", "values": [-0.35, -0.25, -0.15, -0.05, 0.05, 0.15, 0.25, 0.35], "tickSize": -4, "labels": false, "title": null}}, "y2": {"datum": 0.389}}},
   {"data": {"values": [{}]}, "mark": {"type": "text", "text": "n=6"},
    "encoding": {"x": {"datum": -0.38, "scale": {"domain": [-2, 1], "nice": false, "zero": false}, "axis": null}, "y": {"datum": 1.7, "scale": {"domain": [-2.5, 2.5], "nice": false, "zero": false}, "axis": null}}}
  ]},
 {"width": 370, "height": 210,
  "resolve": {"scale": {"y": "independent"}, "axis": {"x": "independent", "y": "independent"}},
  "layer": [
   {"data": {"name": "n7"}, "transform": [{"filter": "indexof(datum.k,'C')==0"}], "mark": {"type": "line", "clip": true},
    "encoding": {
     "x": {"field": "x", "type": "quantitative", "scale": {"domain": [-2, 1], "nice": false, "zero": false}, "axis": {"orient": "bottom", "values": [-2, -1.5, -1, -0.5, 0, 0.5, 1], "tickSize": -7, "labelPadding": 18, "format": ".1f", "title": "ENERGY", "titleFontSize": 23, "titlePadding": 16}},
     "y": {"field": "y", "type": "quantitative", "scale": {"domain": [-2.5, 2.5], "nice": false, "zero": false}, "axis": {"orient": "left", "values": [-2, -1, 0, 1, 2], "tickSize": -7, "labelPadding": 16, "format": "d", "title": null}},
     "color": {"field": "k", "type": "nominal", "scale": {"domain": ["CF+","SF+","CA+","SA+","CF-","SF-","CA-","SA-"], "range": ["#0000ff","#ff0000","#0000ff","#ff0000","#0000ff","#ff0000","#0000ff","#ff0000"]}, "legend": null},
     "strokeDash": {"field": "k", "type": "nominal", "scale": {"domain": ["CF+","SF+","CA+","SA+","CF-","SF-","CA-","SA-"], "range": [[1,0],[1,0],[6,4],[6,4],[1,0],[1,0],[6,4],[6,4]]}, "legend": null}
    }},
   {"data": {"name": "n7"}, "transform": [{"filter": "indexof(datum.k,'S')==0"}], "mark": {"type": "line", "clip": true},
    "encoding": {
     "x": {"field": "x", "type": "quantitative", "scale": {"domain": [-2, 1], "nice": false, "zero": false}, "axis": {"orient": "bottom", "values": [-1.75, -1.25, -0.75, -0.25, 0.25, 0.75], "tickSize": -4, "labels": false, "title": null}},
     "y": {"field": "y", "type": "quantitative", "scale": {"domain": [-0.389, 0.389], "nice": false, "zero": false}, "axis": {"orient": "right", "values": [-0.3, -0.2, -0.1, 0, 0.1, 0.2, 0.3], "tickSize": -7, "labelPadding": 15, "format": ".1f", "title": null}},
     "color": {"field": "k", "type": "nominal", "scale": {"domain": ["CF+","SF+","CA+","SA+","CF-","SF-","CA-","SA-"], "range": ["#0000ff","#ff0000","#0000ff","#ff0000","#0000ff","#ff0000","#0000ff","#ff0000"]}, "legend": null},
     "strokeDash": {"field": "k", "type": "nominal", "scale": {"domain": ["CF+","SF+","CA+","SA+","CF-","SF-","CA-","SA-"], "range": [[1,0],[1,0],[6,4],[6,4],[1,0],[1,0],[6,4],[6,4]]}, "legend": null}
    }},
   {"data": {"values": [{}]}, "mark": "rule",
    "encoding": {"y": {"datum": 0, "scale": {"domain": [-2.5, 2.5], "nice": false, "zero": false}, "axis": {"orient": "left", "values": [-1.5, -0.5, 0.5, 1.5], "tickSize": -4, "labels": false, "title": null}}}},
   {"data": {"values": [{}]}, "mark": "rule",
    "encoding": {"x": {"datum": 0, "scale": {"domain": [-2, 1], "nice": false, "zero": false}, "axis": null},
     "y": {"datum": -0.389, "scale": {"domain": [-0.389, 0.389], "nice": false, "zero": false}, "axis": {"orient": "right", "values": [-0.35, -0.25, -0.15, -0.05, 0.05, 0.15, 0.25, 0.35], "tickSize": -4, "labels": false, "title": null}}, "y2": {"datum": 0.389}}},
   {"data": {"values": [{}]}, "mark": {"type": "text", "text": "n=7"},
    "encoding": {"x": {"datum": -0.24, "scale": {"domain": [-2, 1], "nice": false, "zero": false}, "axis": null}, "y": {"datum": 1.96, "scale": {"domain": [-2.5, 2.5], "nice": false, "zero": false}, "axis": null}}}
  ]}
]
}
